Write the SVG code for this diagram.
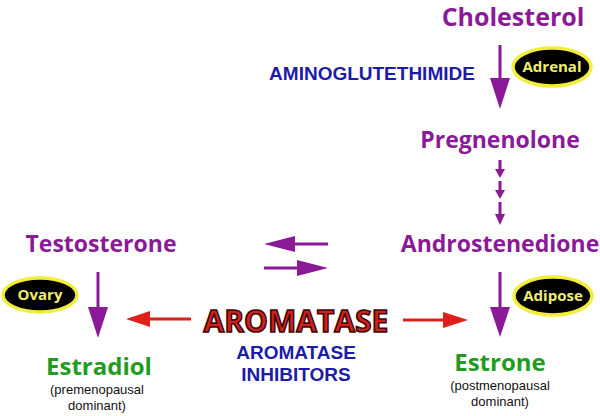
<svg xmlns="http://www.w3.org/2000/svg" width="600" height="416" viewBox="0 0 600 416">
<style>
.p{font-family:"Open Sans","Liberation Sans",sans-serif;font-weight:bold;fill:#8a1a98;font-size:23px;text-anchor:middle}
.g{font-family:"Open Sans","Liberation Sans",sans-serif;font-weight:bold;fill:#239b23;font-size:24px;text-anchor:middle}
.b{font-family:"Liberation Sans",Arial,sans-serif;font-weight:bold;fill:#1c1ca8;font-size:19px;text-anchor:middle}
.s{font-family:"Liberation Sans",Arial,sans-serif;fill:#111;font-size:13px;text-anchor:middle}
.e{fill:#000;stroke:#f2ee3a;stroke-width:3.5}
.et{font-family:"Open Sans","Liberation Sans",sans-serif;font-weight:bold;fill:#f0ec70;font-size:15px;text-anchor:middle}
.pl{stroke:#8a1a98;stroke-width:3;fill:none}
.ph{fill:#8a1a98}
.rl{stroke:#e0201a;stroke-width:3;fill:none}
.rh{fill:#e0201a}
</style>
<g id="cholesterol"><text class="p" x="513" y="26" style="font-size:25px">Cholesterol</text></g>
<g id="aminoglutethimide"><text class="b" x="372" y="80">AMINOGLUTETHIMIDE</text></g>
<g id="adrenal"><ellipse class="e" cx="552" cy="67" rx="39" ry="19"/><text class="et" x="552" y="72">Adrenal</text></g>
<g id="pregnenolone"><text class="p" x="500" y="148">Pregnenolone</text></g>
<g id="androstenedione"><text class="p" x="500" y="252">Androstenedione</text></g>
<g id="testosterone"><text class="p" x="101" y="252">Testosterone</text></g>
<g id="ovary"><ellipse class="e" cx="40" cy="295" rx="37" ry="17"/><text class="et" x="40" y="300">Ovary</text></g>
<g id="adipose"><ellipse class="e" cx="553" cy="296" rx="39" ry="19"/><text class="et" x="553" y="301">Adipose</text></g>
<g id="aromatase"><text x="296" y="332" text-anchor="middle" font-family="'Open Sans','Liberation Sans',sans-serif" font-weight="bold" font-size="30" fill="#d0201a" stroke="#3a0505" stroke-width="1.5">AROMATASE</text></g>
<g id="inhibitors"><text class="b" x="296" y="359">AROMATASE</text><text class="b" x="296" y="381">INHIBITORS</text></g>
<g id="estradiol"><text class="g" x="99" y="375">Estradiol</text><text class="s" x="97" y="394">(premenopausal</text><text class="s" x="97" y="410">dominant)</text></g>
<g id="estrone"><text class="g" x="500" y="371">Estrone</text><text class="s" x="500" y="390">(postmenopausal</text><text class="s" x="500" y="406">dominant)</text></g>
<g id="connectors">
<line class="pl" x1="500" y1="45" x2="500" y2="85"/><polygon class="ph" points="490,78 510,78 500,109"/>
<line class="pl" x1="500" y1="160" x2="500" y2="170" stroke-width="2"/><polygon class="ph" points="495,169 505,169 500,178"/>
<line class="pl" x1="500" y1="181" x2="500" y2="191" stroke-width="2"/><polygon class="ph" points="495,190 505,190 500,199"/>
<line class="pl" x1="500" y1="202" x2="500" y2="215" stroke-width="2"/><polygon class="ph" points="495,214 505,214 500,225"/>
<line class="pl" x1="290" y1="244" x2="328" y2="244"/><polygon class="ph" points="264,244 295,236 295,252"/>
<line class="pl" x1="264" y1="268" x2="300" y2="268"/><polygon class="ph" points="328,268 297,260 297,276"/>
<line class="pl" x1="98" y1="272" x2="98" y2="312"/><polygon class="ph" points="88,307 108,307 98,338"/>
<line class="pl" x1="500" y1="272" x2="500" y2="312"/><polygon class="ph" points="490,307 510,307 500,337"/>
<line class="rl" x1="145" y1="319" x2="191" y2="319"/><polygon class="rh" points="126,319 150,311 150,327"/>
<line class="rl" x1="403" y1="320" x2="448" y2="320"/><polygon class="rh" points="468,320 443,312 443,328"/>
</g>
</svg>
